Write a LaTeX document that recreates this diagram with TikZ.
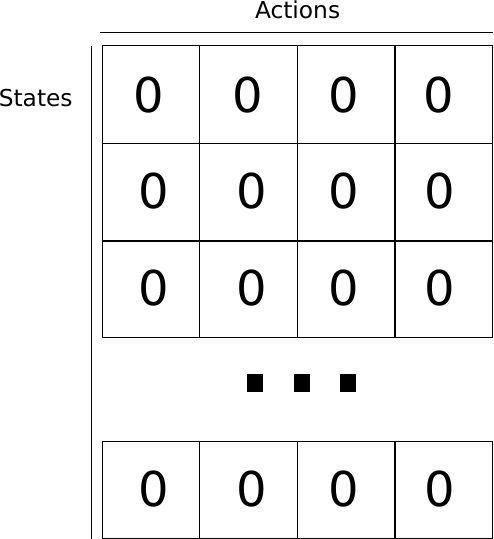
\documentclass[tikz,border=0pt]{standalone}
\usepackage{fontspec}
\setmainfont{DejaVu Sans}
\begin{document}
\begin{tikzpicture}[x=1pt,y=-1pt,
  gridline/.style={draw=black,line width=1pt},
  thickline/.style={draw=black,line width=1.8pt},
  zero/.style={inner sep=0pt,font=\fontsize{48}{48}\selectfont},
  label/.style={inner sep=0pt,font=\fontsize{23.3}{24}\selectfont},
  dotbox/.style={fill=black,draw=none,minimum width=16.3pt,minimum height=17.7pt,inner sep=0pt}]
\useasboundingbox (0,0) rectangle (494,539);
% axis labels and axis lines
\node[label,anchor=base west] (act) at (254.8,18.5) {Actions};
\node[label,anchor=base west] (st) at (-1.4,106.7) {States};
\coordinate (ha) at (100,32.3);
\coordinate (hb) at (493,32.3);
\draw[gridline] (ha) -- (hb);
\coordinate (va) at (91.3,46);
\coordinate (vb) at (91.3,538.5);
\draw[gridline] (va) -- (vb);
% top block grid
\coordinate (t1) at (102.3,45.3);
\coordinate (t2) at (492.3,337.7);
\draw[gridline] (t1) rectangle (t2);
\draw[gridline] (199.3,45.3) -- (199.3,337.7);
\draw[gridline] (297.5,45.3) -- (297.5,337.7);
\draw[thickline] (395,45.3) -- (395,337.7);
\draw[gridline] (102.3,143.3) -- (492.3,143.3);
\draw[thickline] (102.3,241) -- (492.3,241);
% bottom row grid
\coordinate (b1) at (102.3,441.7);
\coordinate (b2) at (492.3,538.3);
\draw[gridline] (b1) rectangle (b2);
\draw[gridline] (199.3,441.7) -- (199.3,538.3);
\draw[gridline] (297.5,441.7) -- (297.5,538.3);
\draw[thickline] (395,441.7) -- (395,538.3);
% zeros
\node[zero] (z11) at (148.3,95.3) {0};
\node[zero] (z12) at (247.6,95.3) {0};
\node[zero] (z13) at (343.8,95.3) {0};
\node[zero] (z14) at (439.0,95.3) {0};
\node[zero] (z21) at (153.3,190.8) {0};
\node[zero] (z22) at (251.7,190.8) {0};
\node[zero] (z23) at (343.7,190.8) {0};
\node[zero] (z24) at (439.3,190.8) {0};
\node[zero] (z31) at (153.3,288.3) {0};
\node[zero] (z32) at (251.7,288.3) {0};
\node[zero] (z33) at (343.7,288.3) {0};
\node[zero] (z34) at (439.3,288.3) {0};
\node[zero] (z41) at (153.3,488.7) {0};
\node[zero] (z42) at (251.7,488.7) {0};
\node[zero] (z43) at (343.7,488.7) {0};
\node[zero] (z44) at (439.3,488.7) {0};
% ellipsis squares
\node[dotbox] (d1) at (254.9,382.9) {};
\node[dotbox] (d2) at (302.0,382.9) {};
\node[dotbox] (d3) at (348.0,382.9) {};
\end{tikzpicture}
\end{document}
